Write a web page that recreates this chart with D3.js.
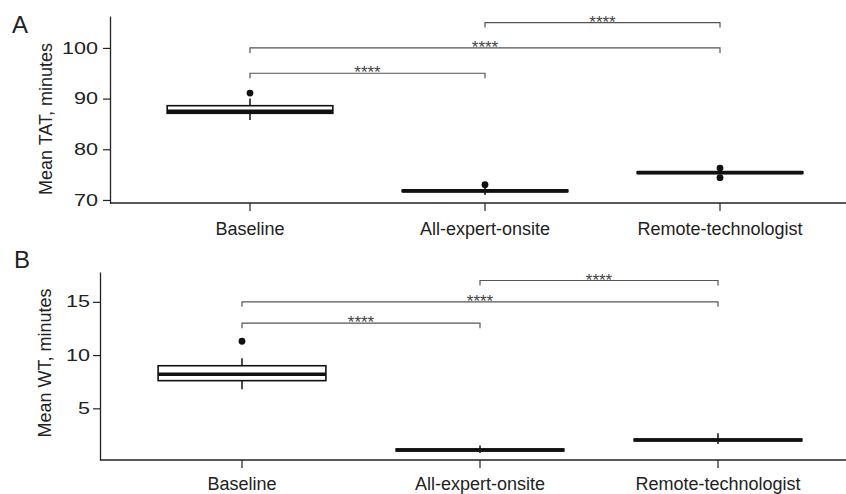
<!DOCTYPE html>
<html>
<head>
<meta charset="utf-8">
<script src="https://cdn.jsdelivr.net/npm/d3@7"></script>
<style>
body { margin: 0; background: #fff; }
svg text { font-family: "Liberation Sans", Arial, Helvetica, sans-serif; fill: #222; }
</style>
</head>
<body>
<svg id="chart" width="846" height="494"></svg>
<script>
const GROUPS = ["Baseline", "All-expert-onsite", "Remote-technologist"];
const SIG = "****";

// panel A - mean TAT
const TAT_LOW = [85.8, 71.0, 75.0];
const TAT_Q1 = [87.1, 71.65, 75.25];
const TAT_MED = [87.5, 71.8, 75.4];
const TAT_Q3 = [88.6, 71.95, 75.55];
const TAT_HIGH = [90.0, 72.6, 75.8];
const TAT_OUT = [[91.1], [73.0], [76.3, 74.4]];
const TAT_TICKS = [70, 80, 90, 100];
const TAT_PAIRS = [[0, 1, 95], [0, 2, 100], [1, 2, 105]];

// panel B - mean WT
const WT_LOW = [6.8, 0.8, 1.65];
const WT_Q1 = [7.6, 1.0, 1.95];
const WT_MED = [8.2, 1.09, 2.03];
const WT_Q3 = [9.0, 1.18, 2.11];
const WT_HIGH = [9.7, 1.5, 2.66];
const WT_OUT = [[11.3], [], []];
const WT_TICKS = [5, 10, 15];
const WT_PAIRS = [[0, 1, 13], [0, 2, 15], [1, 2, 17]];

const svg = d3.select("#chart");

function drawPanel(p){
	const x = d3.scaleBand().domain(GROUPS).range(p.xRange);
	const y = d3.scaleLinear().domain(p.yDomain).range([p.bottom, p.top]);
	const g = svg.append("g");
	const bw = x.bandwidth() * 0.705;
	const cx = d => x(d) + x.bandwidth() / 2;

	// y axis
	const ya = g.append("g")
		.attr("transform", `translate(${p.left},0)`)
		.call(d3.axisLeft(y).tickValues(p.ticks).tickSize(7).tickSizeOuter(0));
	ya.select(".domain").attr("stroke", "#222").attr("stroke-width", 1.3);
	ya.selectAll(".tick line").attr("stroke", "#222").attr("stroke-width", 1.2);
	ya.selectAll(".tick text")
		.attr("font-size", 16)
		.attr("x", p.labelGap / -1.35)
		.attr("transform", "scale(1.35,1)")
		.style("fill", "#222");

	// x axis (line spans whole width)
	g.append("line")
		.attr("x1", p.left).attr("x2", 846)
		.attr("y1", p.bottom).attr("y2", p.bottom)
		.attr("stroke", "#222").attr("stroke-width", 1.3);
	const xa = g.append("g")
		.attr("transform", `translate(0,${p.bottom})`)
		.call(d3.axisBottom(x).tickSize(8).tickPadding(p.xPad).tickSizeOuter(0));
	xa.select(".domain").remove();
	xa.selectAll(".tick line").attr("stroke", "#222").attr("stroke-width", 1.2);
	xa.selectAll(".tick text").attr("font-size", 18).style("fill", "#222");

	// y title
	g.append("text")
		.attr("transform", `translate(${p.titleX},${p.titleY}) rotate(-90)`)
		.attr("text-anchor", "middle")
		.attr("dy", "0.35em")
		.attr("font-size", 18)
		.text(p.title);

	// panel letter
	g.append("text")
		.attr("x", p.letterX).attr("y", p.letterY)
		.attr("font-size", 24)
		.text(p.letter);

	// boxes
	GROUPS.forEach((grp, i) => {
		const c = cx(grp);
		g.append("line")
			.attr("x1", c).attr("x2", c)
			.attr("y1", y(p.low[i])).attr("y2", y(p.high[i]))
			.attr("stroke", "#111").attr("stroke-width", 1.5);
		g.append("rect")
			.attr("x", c - bw / 2).attr("width", bw)
			.attr("y", y(p.q3[i])).attr("height", y(p.q1[i]) - y(p.q3[i]))
			.attr("fill", "#fff").attr("stroke", "#111").attr("stroke-width", 1.6);
		g.append("line")
			.attr("x1", c - bw / 2).attr("x2", c + bw / 2)
			.attr("y1", y(p.med[i])).attr("y2", y(p.med[i]))
			.attr("stroke", "#111").attr("stroke-width", 3.6);
		p.out[i].forEach(v => {
			g.append("circle")
				.attr("cx", c).attr("cy", y(v)).attr("r", 3.4)
				.attr("fill", "#111");
		});
	});

	// significance brackets
	p.pairs.forEach(([a, b, v]) => {
		const x1 = cx(GROUPS[a]), x2 = cx(GROUPS[b]), yy = y(v);
		g.append("path")
			.attr("d", `M${x1},${yy + 5}V${yy}H${x2}V${yy + 5}`)
			.attr("fill", "none").attr("stroke", "#555").attr("stroke-width", 1.2);
		g.append("text")
			.attr("x", (x1 + x2) / 2).attr("y", yy + 5)
			.attr("text-anchor", "middle")
			.attr("font-size", 17)
			.style("fill", "#444")
			.text(SIG);
	});
}

drawPanel({
	xRange: [132.5, 837.5], left: 110, top: 16, bottom: 203,
	yDomain: [69.4, 106.3], ticks: TAT_TICKS, labelGap: 12, xPad: 11,
	low: TAT_LOW, q1: TAT_Q1, med: TAT_MED, q3: TAT_Q3, high: TAT_HIGH, out: TAT_OUT,
	pairs: TAT_PAIRS, title: "Mean TAT, minutes", titleX: 46, titleY: 119,
	letter: "A", letterX: 12, letterY: 33
});

drawPanel({
	xRange: [123, 837], left: 100, top: 272, bottom: 460,
	yDomain: [0.15, 17.8], ticks: WT_TICKS, labelGap: 10, xPad: 9,
	low: WT_LOW, q1: WT_Q1, med: WT_MED, q3: WT_Q3, high: WT_HIGH, out: WT_OUT,
	pairs: WT_PAIRS, title: "Mean WT, minutes", titleX: 45, titleY: 363,
	letter: "B", letterX: 14, letterY: 268
});
</script>
</body>
</html>
